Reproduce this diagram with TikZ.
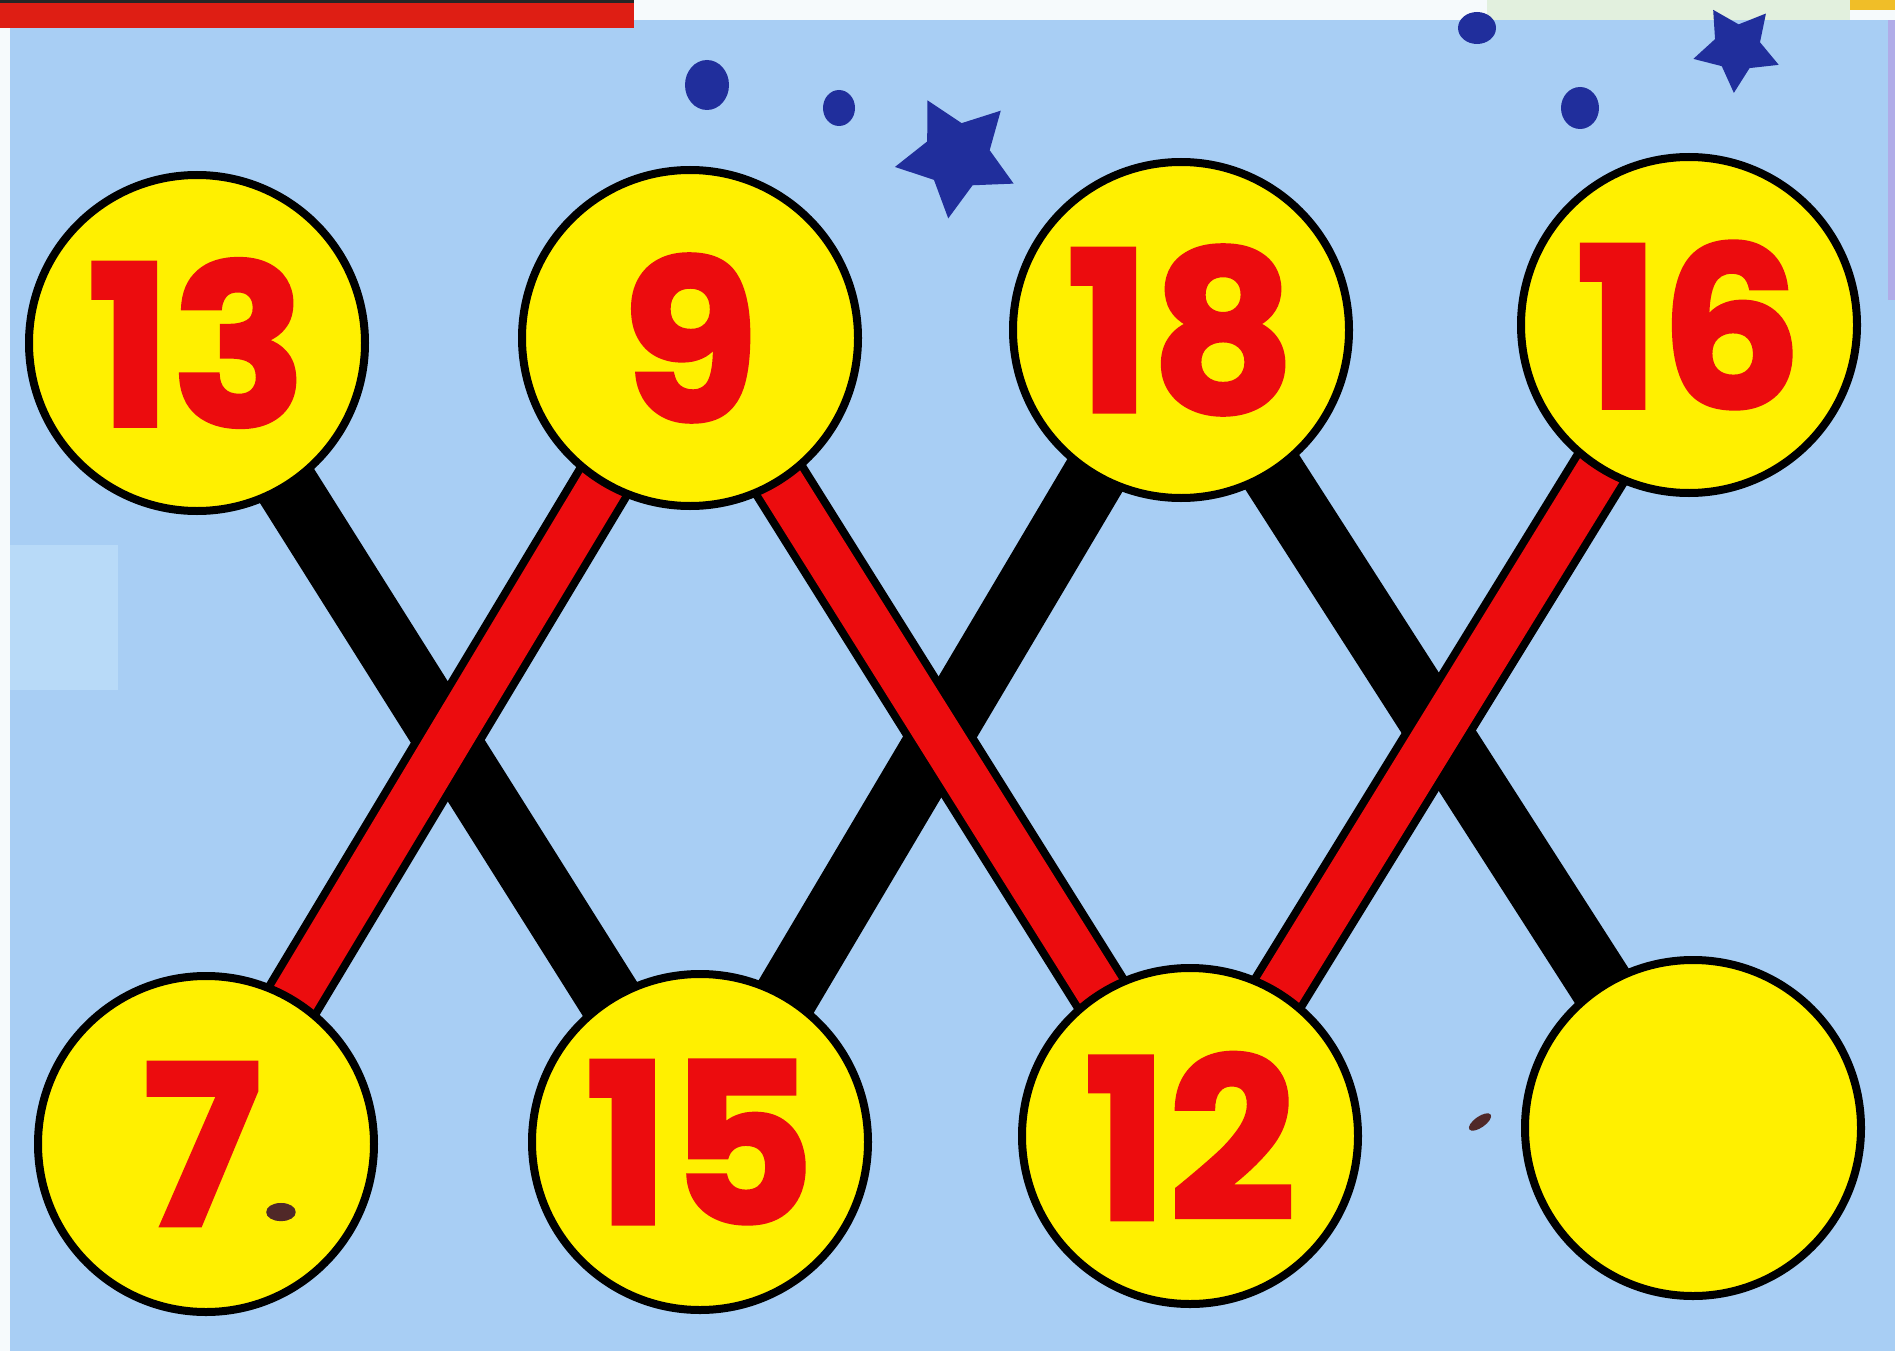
\documentclass[tikz,border=0pt]{standalone}
\usepackage{fontspec}
\usetikzlibrary{shapes.geometric,backgrounds}
\newfontfamily\numfont{Poppins}[BoldFeatures={FakeBold=1.6}]
\definecolor{bgblue}{RGB}{168,206,244}
\definecolor{ballyellow}{RGB}{255,240,0}
\definecolor{numred}{RGB}{236,12,14}
\definecolor{starblue}{RGB}{32,46,156}
\definecolor{stripred}{RGB}{222,30,20}
\definecolor{stripgreen}{RGB}{226,240,222}
\definecolor{stripgold}{RGB}{240,190,40}
\definecolor{paperwhite}{RGB}{246,250,252}
\definecolor{patchblue}{RGB}{184,218,248}
\definecolor{edgeviolet}{RGB}{176,172,232}
\definecolor{markbrown}{RGB}{80,40,40}
\pgfdeclarelayer{deep}
\pgfsetlayers{deep,background,main}
\newcommand{\ballnum}[2][8pt]{\raisebox{-#1}{#2}}
\begin{document}
\begin{tikzpicture}[x=1pt,y=-1pt,
  ball/.style={circle, draw=black, line width=8pt, fill=ballyellow,
    minimum size=336pt, inner sep=0pt, text=numred,
    font=\numfont\bfseries\fontsize{224}{224}\selectfont},
  blackbar/.style={draw=black, line width=64pt},
  redbar/.style={draw=black, line width=8pt, double=numred, double distance=46pt},
  starmark/.style={star, star points=5, star point ratio=1.9, fill=starblue,
    draw=none, inner sep=0pt},
  dotmark/.style={fill=starblue}]
\useasboundingbox (0,0) rectangle (1895,1351);
\begin{pgfonlayer}{deep}
  \fill[bgblue] (0,0) rectangle (1895,1351);
  \fill[paperwhite] (0,0) rectangle (1895,20);
  \fill[stripred] (0,0) rectangle (634,28);
  \fill[black!85] (0,0) rectangle (634,3);
  \fill[stripgreen] (1487,0) rectangle (1850,20);
  \fill[stripgold] (1850,0) rectangle (1895,10);
  \fill[paperwhite] (0,28) rectangle (10,1351);
  \fill[patchblue] (10,545) rectangle (118,690);
  \fill[edgeviolet] (1888,20) rectangle (1895,300);
\end{pgfonlayer}

% balls
\node[ball] (b13) at (197,343) {\ballnum[12pt]{13}};
\node[ball] (b9)  at (690,338) {\ballnum{9}};
\node[ball] (b18) at (1181,330) {\ballnum{18}};
\node[ball] (b16) at (1689,325) {\ballnum{16}};
\node[ball] (b7)  at (206,1144) {\ballnum{\hspace*{30pt}7\raisebox{6pt}{\color{markbrown}\scalebox{0.6}[0.4]{.}}}};
\node[ball] (b15) at (700,1142) {\ballnum{15}};
\node[ball] (b12) at (1190,1136) {\ballnum{12}};
\node[ball] (bx)  at (1693,1128) {};

% bars
\begin{pgfonlayer}{background}
  \draw[blackbar] (b13.center) -- (b15.center);
  \draw[blackbar] (b18.center) -- (b15.center);
  \draw[blackbar] (b18.center) -- (bx.center);
  \draw[redbar] (b9.center) -- (b7.center);
  \draw[redbar] (b9.center) -- (b12.center);
  \draw[redbar] (b16.center) -- (b12.center);
\end{pgfonlayer}

% sky decorations
\node[starmark, minimum size=126pt, shape border rotate=172] (star1) at (957,156) {};
\node[starmark, minimum size=90pt, shape border rotate=176] (star2) at (1737,48) {};
\node[dotmark, ellipse, minimum width=44pt, minimum height=50pt, inner sep=0pt] (dot1) at (707,85) {};
\node[dotmark, ellipse, minimum width=32pt, minimum height=36pt, inner sep=0pt] (dot2) at (839,108) {};
\node[dotmark, ellipse, minimum width=38pt, minimum height=32pt, inner sep=0pt] (dot3) at (1477,28) {};
\node[dotmark, ellipse, minimum width=38pt, minimum height=42pt, inner sep=0pt] (dot4) at (1580,108) {};
\node[ellipse, fill=markbrown, minimum width=26pt, minimum height=11pt, inner sep=0pt, rotate=35] (speck) at (1480,1122) {};
\end{tikzpicture}
\end{document}
